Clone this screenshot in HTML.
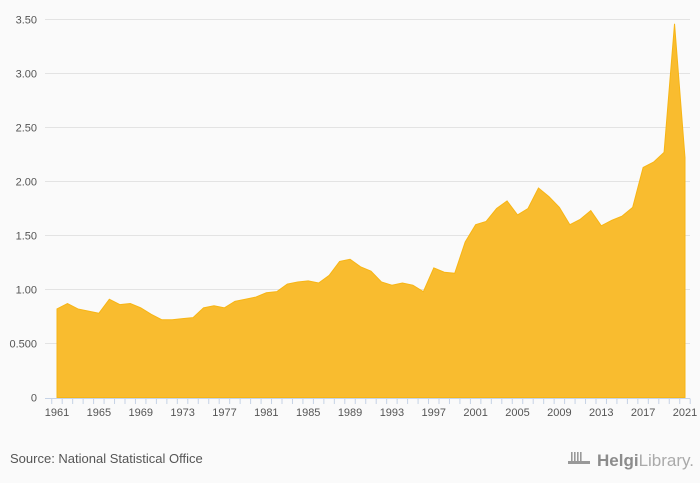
<!DOCTYPE html>
<html><head><meta charset="utf-8"><style>
body{margin:0;background:#fafafa;font-family:"Liberation Sans",sans-serif;}
#wrap{position:relative;width:700px;height:483px;background:#fafafa;overflow:hidden}
</style></head><body>
<div id="wrap">
<svg id="chart" width="700" height="483"></svg>
</div>
<script>
const years=[1961,1962,1963,1964,1965,1966,1967,1968,1969,1970,1971,1972,1973,1974,1975,1976,1977,1978,1979,1980,1981,1982,1983,1984,1985,1986,1987,1988,1989,1990,1991,1992,1993,1994,1995,1996,1997,1998,1999,2000,2001,2002,2003,2004,2005,2006,2007,2008,2009,2010,2011,2012,2013,2014,2015,2016,2017,2018,2019,2020,2021];
const values=[0.82,0.87,0.82,0.80,0.78,0.91,0.86,0.87,0.83,0.77,0.72,0.72,0.73,0.74,0.83,0.85,0.83,0.89,0.91,0.93,0.97,0.98,1.05,1.07,1.08,1.06,1.13,1.26,1.28,1.21,1.17,1.07,1.04,1.06,1.04,0.98,1.20,1.16,1.15,1.44,1.60,1.63,1.75,1.82,1.69,1.75,1.94,1.86,1.76,1.60,1.65,1.73,1.59,1.64,1.68,1.76,2.13,2.18,2.27,3.46,2.22];
const yTicks=[0,0.5,1,1.5,2,2.5,3,3.5];
const yTickLabels=["0","0.500","1.00","1.50","2.00","2.50","3.00","3.50"];
const xTickYears=[1961,1965,1969,1973,1977,1981,1985,1989,1993,1997,2001,2005,2009,2013,2017,2021];

const NS="http://www.w3.org/2000/svg";
const svg=document.getElementById('chart');
const x0=57,x1=685,y0=397.5,pxPerUnit=108;
const xs=y=>x0+(y-1961)*(x1-x0)/(2021-1961);
const ys=v=>y0-v*pxPerUnit;
function mk(tag,attrs){const e=document.createElementNS(NS,tag);for(const k in attrs)e.setAttribute(k,attrs[k]);svg.appendChild(e);return e;}

yTicks.forEach((t,i)=>{
  if(t>0){const g=mk('line',{x1:45,x2:690,y1:ys(t),y2:ys(t),stroke:'#e3e3e3','stroke-width':1});
  
  }
  const tx=mk('text',{x:37,y:ys(t)+4,'text-anchor':'end','font-size':11,fill:'#555'});
  tx.textContent=yTickLabels[i];
  
  
});

let d='M'+xs(years[0])+','+y0;
years.forEach((yr,i)=>{d+=' L'+xs(yr)+','+ys(values[i]);});
d+=' L'+xs(years[years.length-1])+','+y0+' Z';
const area=mk('path',{d:d,fill:'#f9bc2f',stroke:'#f7b515','stroke-width':1});



const ax=mk('line',{x1:45,x2:690,y1:398.5,y2:398.5,stroke:'#c6d3e6','stroke-width':1});


for(let yr=1960;yr<=2021;yr++){
  const tk=mk('line',{x1:xs(yr)+5.2,x2:xs(yr)+5.2,y1:398.5,y2:404,stroke:'#c6d3e6','stroke-width':1});
  
  
}
xTickYears.forEach(yr=>{
  const t=mk('text',{x:xs(yr),y:416,'text-anchor':'middle','font-size':11,fill:'#555'});
  t.textContent=yr;
  
  
});

const src=mk('text',{x:10,y:463,'font-size':13,fill:'#555'});
src.textContent='Source: National Statistical Office';



const ic=mk('g',{fill:'#999'});


[0,3,6,9].forEach(o=>{const r=document.createElementNS(NS,'rect');r.setAttribute('x',571+o);r.setAttribute('y',452);r.setAttribute('width',1.6);r.setAttribute('height',10);ic.appendChild(r);});
const base=document.createElementNS(NS,'rect');base.setAttribute('x',568);base.setAttribute('y',461);base.setAttribute('width',22);base.setAttribute('height',3);ic.appendChild(base);
const logo=mk('text',{x:597,y:466,'font-size':17,fill:'#8c8c8c','font-family':'Liberation Sans, sans-serif'});
logo.innerHTML='<tspan font-weight="bold">Helgi</tspan><tspan fill="#aaa">Library.</tspan>';


</script>
</body></html>
